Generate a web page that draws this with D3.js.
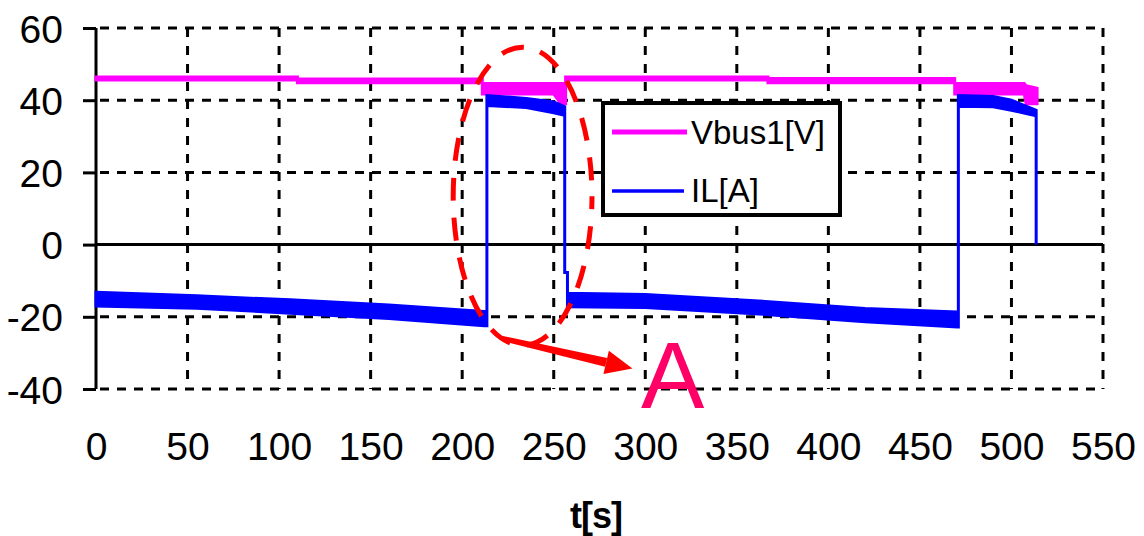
<!DOCTYPE html>
<html>
<head>
<meta charset="utf-8">
<script src="https://cdn.jsdelivr.net/npm/d3@7/dist/d3.min.js"></script>
<style>
  html, body { margin: 0; padding: 0; background: #fff; }
  svg { display: block; }
  text { font-family: "Liberation Sans", Arial, sans-serif; }
</style>
</head>
<body>
<div id="chart"></div>
<script>
// ---------- data ----------
const xTicks = [0, 50, 100, 150, 200, 250, 300, 350, 400, 450, 500, 550];
const yTicks = [-40, -20, 0, 20, 40, 60];
const xLabel = "t[s]";
const seriesNames = ["Vbus1[V]", "IL[A]"];

// Vbus1 envelope: time, lower edge, upper edge
const vbusT  = [0,    110,  110,  211,  211,  250,  254,  256.5, 256.5, 367,  367,  469,  469,  507,  508,  514];
const vbusLo = [45.6, 45.6, 44.8, 44.8, 41.7, 41.7, 39.0, 39.0,  45.6,  45.6, 44.8, 44.8, 41.7, 41.7, 39.0, 39.0];
const vbusHi = [46.4, 46.4, 45.9, 45.9, 44.6, 44.6, 44.6, 44.6,  46.4,  46.4, 46.0, 46.0, 44.6, 44.6, 44.0, 43.3];

// IL envelope: time, lower edge, upper edge
const ilT  = [0,     55,    106,   160,   212,   213.5, 213.5, 235,  250,  256,  256,  257.5, 257.5, 300,   362,   420,   470.5, 471,  471,  490,  500,  513.5, 513.5];
const ilLo = [-17.0, -17.6, -19.0, -20.5, -22.5, -22.5, 38.5,  38.0, 36.5, 35.8, -7.7, -7.7,  -17.2, -17.4, -19.2, -21.4, -22.8, -22.8, 38.3, 38.2, 37.2, 35.7, 0];
const ilHi = [-13.2, -14.2, -15.3, -16.7, -18.5, -18.5, 41.3,  40.5, 39.5, 38.2, -7.7, -7.7,  -13.5, -13.8, -15.6, -17.7, -18.7, -18.7, 41.3, 41.0, 40.0, 37.2, 0];

// annotation (in data units)
const ellipseCenter = [233, 13.4];
const ellipseRadius = [37.9, 41.3];
const arrowFrom = [222, -26];
const arrowTo = [293, -34.3];
const annoLabel = "A";
const annoLabelPos = [315, -45.4];

// ---------- drawing ----------
const W = 1144, H = 536;
const svg = d3.select("#chart").append("svg").attr("width", W).attr("height", H);

const x = d3.scaleLinear().domain([0, 550]).range([96, 1103]);
const y = d3.scaleLinear().domain([-40, 60]).range([389, 28]);

const grid = svg.append("g");
// horizontal dashed gridlines
grid.selectAll("line.h").data(yTicks.filter(d => d !== 0)).join("line")
  .attr("x1", x(0)).attr("x2", x(550))
  .attr("y1", d => y(d)).attr("y2", d => y(d))
  .attr("stroke", "#000").attr("stroke-width", 3)
  .attr("stroke-dasharray", "9,8").attr("stroke-dashoffset", -4);
// vertical dashed gridlines
grid.selectAll("line.v").data(xTicks.filter(d => d !== 0)).join("line")
  .attr("x1", d => x(d)).attr("x2", d => x(d))
  .attr("y1", y(60)).attr("y2", y(-40))
  .attr("stroke", "#000").attr("stroke-width", 3)
  .attr("stroke-dasharray", "9,9");

// axes
const yAxis = d3.axisLeft(y).tickValues(yTicks).tickSize(13).tickFormat(d3.format("d"));
const gy = svg.append("g").attr("transform", `translate(${x(0)},0)`).call(yAxis);
gy.select(".domain").attr("stroke", "#000").attr("stroke-width", 3).attr("d", `M0,${y(60)}V${y(-40)}`);
gy.selectAll(".tick line").attr("stroke", "#000").attr("stroke-width", 3);
gy.selectAll(".tick text")
  .attr("x", -33).attr("dy", "0.36em")
  .style("font-size", "39px").style("font-family", "'Liberation Sans', Arial, sans-serif")
  .attr("fill", "#000").text(d => d);

// zero line
svg.append("line")
  .attr("x1", x(0)).attr("x2", x(550)).attr("y1", y(0)).attr("y2", y(0))
  .attr("stroke", "#000").attr("stroke-width", 3);

// x tick labels (axis placed below the plot)
const xAxis = d3.axisBottom(x).tickValues(xTicks).tickSize(0).tickFormat(d3.format("d"));
const gx = svg.append("g").attr("transform", `translate(0,${y(-40)})`).call(xAxis);
gx.select(".domain").remove();
gx.selectAll(".tick text")
  .attr("y", 71).attr("dy", 0)
  .style("font-size", "39px").style("font-family", "'Liberation Sans', Arial, sans-serif")
  .attr("fill", "#000");

// x axis title
svg.append("text")
  .attr("x", 596).attr("y", 528).attr("text-anchor", "middle")
  .style("font-size", "36px").style("font-weight", "bold").style("letter-spacing", "-1px")
  .text(xLabel);

// series as envelopes
const vbus = vbusT.map((t, i) => ({ t, lo: vbusLo[i], hi: vbusHi[i] }));
const il = ilT.map((t, i) => ({ t, lo: ilLo[i], hi: ilHi[i] }));
const area = d3.area().x(d => x(d.t)).y0(d => y(d.lo)).y1(d => y(d.hi));

svg.append("path").datum(vbus).attr("d", area)
  .attr("fill", "#ff00ff").attr("stroke", "#ff00ff").attr("stroke-width", 3)
  .attr("stroke-linejoin", "miter");
svg.append("path").datum(il).attr("d", area)
  .attr("fill", "#0000ff").attr("stroke", "#0000ff").attr("stroke-width", 3)
  .attr("stroke-linejoin", "miter");

// legend
const lg = svg.append("g");
lg.append("rect").attr("x", 603).attr("y", 103).attr("width", 237).attr("height", 112)
  .attr("fill", "#fff").attr("stroke", "#000").attr("stroke-width", 4);
const legendColors = ["#ff00ff", "#0000ff"];
const legendWidths = [5, 3.3];
const legendY = [132, 191];
const legendBase = [143.5, 201.7];
const legendLineEnd = [687, 684];
seriesNames.forEach((name, i) => {
  lg.append("line").attr("x1", 612).attr("x2", legendLineEnd[i])
    .attr("y1", legendY[i]).attr("y2", legendY[i])
    .attr("stroke", legendColors[i]).attr("stroke-width", legendWidths[i]);
  lg.append("text").attr("x", 691).attr("y", legendBase[i])
    .style("font-size", "33px").attr("fill", "#000").text(name);
});

// annotation: dashed ellipse, arrow, letter
const anno = svg.append("g");
anno.append("ellipse")
  .attr("cx", x(ellipseCenter[0])).attr("cy", y(ellipseCenter[1]))
  .attr("rx", x(ellipseRadius[0]) - x(0)).attr("ry", y(0) - y(ellipseRadius[1]))
  .attr("fill", "none").attr("stroke", "#ff0000").attr("stroke-width", 5)
  .attr("stroke-dasharray", "23,17").attr("stroke-dashoffset", 10);

const ax0 = x(arrowFrom[0]), ay0 = y(arrowFrom[1]);
const ax1 = x(arrowTo[0]), ay1 = y(arrowTo[1]);
const ang = Math.atan2(ay1 - ay0, ax1 - ax0);
const headLen = 27, headHalf = 12;
const bx = ax1 - headLen * Math.cos(ang), by = ay1 - headLen * Math.sin(ang);
const nx = -Math.sin(ang), ny = Math.cos(ang);
// tapered shaft
anno.append("path")
  .attr("d", `M${ax0 + nx * 2.5},${ay0 + ny * 2.5} L${bx + nx * 4.5},${by + ny * 4.5} L${bx - nx * 4.5},${by - ny * 4.5} L${ax0 - nx * 2.5},${ay0 - ny * 2.5}Z`)
  .attr("fill", "#ff0000");
anno.append("path")
  .attr("d", `M${ax1},${ay1} L${bx + nx * headHalf},${by + ny * headHalf} L${bx - nx * headHalf},${by - ny * headHalf}Z`)
  .attr("fill", "#ff0000");

anno.append("text")
  .attr("x", x(annoLabelPos[0])).attr("y", y(annoLabelPos[1]))
  .attr("text-anchor", "middle")
  .style("font-size", "95px").attr("fill", "#ff0066")
  .text(annoLabel);
</script>
</body>
</html>
